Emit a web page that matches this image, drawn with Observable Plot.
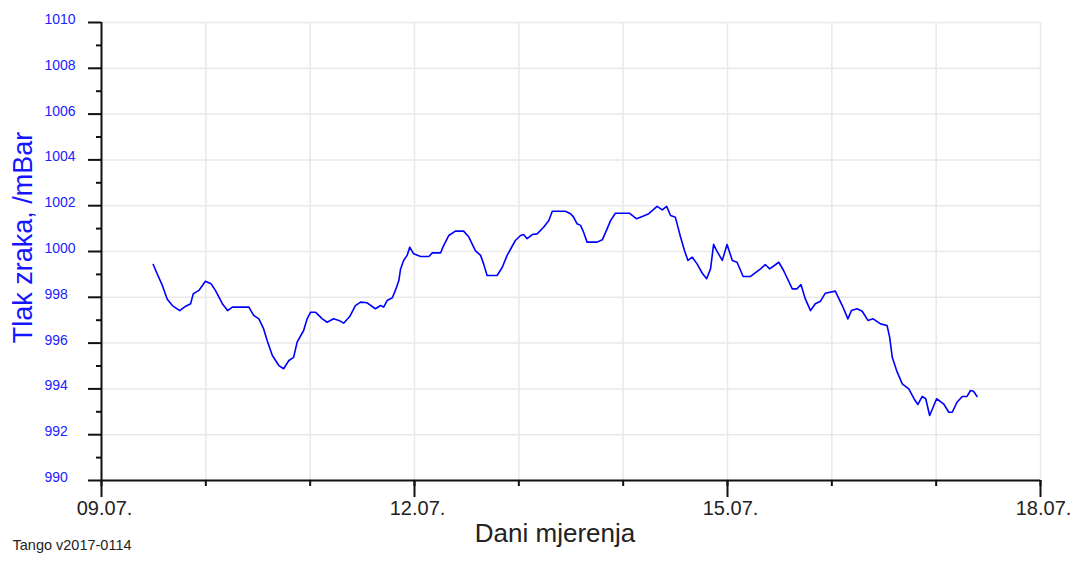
<!DOCTYPE html>
<html>
<head>
<meta charset="utf-8">
<script src="https://cdn.jsdelivr.net/npm/d3@7"></script>
<script src="https://cdn.jsdelivr.net/npm/@observablehq/plot@0.6"></script>
<style>
  html, body { margin: 0; padding: 0; background: #fff; }
  #chart svg { display: block; }
</style>
</head>
<body>
<div id="chart"></div>
<script>
// Hours since 09.07. 00:00 (UTC)
const hours = [
  11.9, 12.8, 14.0, 15.1, 16.3, 18.0, 19.3, 20.5, 21.1, 22.4, 23.9, 25.2, 26.2, 27.8, 29.0, 30.1,
  33.9, 35.0, 36.2, 37.3, 38.1, 39.3, 40.8, 41.9, 43.1, 44.2, 45.0, 46.5, 47.3, 48.1, 49.2, 50.8,
  51.9, 53.4, 54.6, 55.7, 57.1, 58.4, 59.6, 61.1, 63.0, 64.2, 64.9, 65.7, 66.9, 67.6, 68.4, 68.8,
  69.5, 70.3, 70.9, 71.8, 73.4, 75.3, 76.1, 78.0, 78.7, 79.9, 81.4, 83.3, 84.5, 86.0, 87.2, 87.9,
  88.7, 91.0, 92.2, 93.3, 95.2, 96.4, 97.1, 97.9, 99.1, 100.2, 101.7, 102.9, 103.7, 106.7, 107.9,
  108.6, 109.4, 110.2, 110.9, 111.7, 114.0, 115.2, 116.3, 117.1, 118.2, 121.5, 123.1, 124.4, 125.9,
  127.8, 129.0, 130.0, 130.9, 132.0, 133.2, 134.1, 134.9, 135.9, 137.0, 138.2, 139.2, 140.1, 140.8,
  141.5, 142.8, 143.9, 145.1, 146.2, 147.6, 149.3, 151.6, 152.7, 153.7, 155.8, 156.9, 158.9, 160.0,
  160.9, 161.9, 163.1, 164.2, 165.4, 166.5, 168.8, 170.4, 171.7, 172.5, 173.8, 175.0, 176.3, 177.5,
  179.2, 180.7, 181.3, 181.9, 182.9, 184.2, 185.7, 186.9, 187.8, 188.8, 189.6, 190.5, 191.3, 192.1,
  193.7, 194.9, 195.7, 196.8, 198.0, 199.1, 199.9, 200.6, 201.4
];
// Air pressure, mBar
const pressure = [
  999.43, 999.03, 998.52, 997.93, 997.64, 997.42, 997.60, 997.72, 998.15, 998.30, 998.70, 998.59, 998.30, 997.72, 997.42, 997.57,
  997.57, 997.21, 997.06, 996.62, 996.11, 995.46, 995.02, 994.88, 995.24, 995.38, 996.04, 996.55, 997.06, 997.35, 997.35, 997.06,
  996.91, 997.06, 996.99, 996.87, 997.16, 997.64, 997.79, 997.76, 997.50, 997.64, 997.57, 997.86, 997.98, 998.30, 998.73, 999.24,
  999.61, 999.83, 1000.19, 999.90, 999.78, 999.78, 999.94, 999.94, 1000.26, 1000.70, 1000.89, 1000.89, 1000.63, 1000.04, 999.83, 999.46,
  998.95, 998.95, 999.31, 999.83, 1000.48, 1000.70, 1000.74, 1000.56, 1000.74, 1000.77, 1001.06, 1001.35, 1001.76, 1001.76, 1001.65,
  1001.50, 1001.21, 1001.14, 1000.84, 1000.41, 1000.41, 1000.51, 1000.99, 1001.35, 1001.67, 1001.67, 1001.43, 1001.53, 1001.65,
  1001.97, 1001.82, 1001.97, 1001.57, 1001.50, 1000.63, 1000.04, 999.61, 999.75, 999.46, 999.05, 998.81, 999.24, 1000.31,
  1000.04, 999.61, 1000.31, 999.61, 999.53, 998.91, 998.91, 999.24, 999.43, 999.24, 999.53, 999.17, 998.37, 998.37,
  998.56, 997.93, 997.42, 997.72, 997.83, 998.18, 998.27, 997.64, 997.06, 997.42, 997.50, 997.39, 996.99, 997.06,
  996.84, 996.77, 996.26, 995.38, 994.80, 994.22, 994.00, 993.57, 993.32, 993.67, 993.57, 992.84, 993.20, 993.57,
  993.35, 992.98, 992.98, 993.42, 993.67, 993.67, 993.93, 993.90, 993.67
];

const majorDays = ["2017-07-09", "2017-07-12", "2017-07-15", "2017-07-18"];
const allDays = ["2017-07-09", "2017-07-10", "2017-07-11", "2017-07-12", "2017-07-13",
                 "2017-07-14", "2017-07-15", "2017-07-16", "2017-07-17", "2017-07-18"];
const majorY = [990, 992, 994, 996, 998, 1000, 1002, 1004, 1006, 1008, 1010];
const minorY = [991, 993, 995, 997, 999, 1001, 1003, 1005, 1007, 1009];

const yTitle = "Tlak zraka, /mBar";
const xTitle = "Dani mjerenja";
const caption = "Tango v2017-0114";

const start = Date.UTC(2017, 6, 9);
const data = hours.map((h, i) => ({ t: new Date(start + h * 3600e3), p: pressure[i] }));
const toDate = s => new Date(s + "T00:00:00Z");
const majorDates = majorDays.map(toDate);
const allDates = allDays.map(toDate);

const font = "'Liberation Sans', Arial, sans-serif";
const axisInk = "#111";

const chart = Plot.plot({
  width: 1076,
  height: 561,
  marginLeft: 101,
  marginRight: 36,
  marginTop: 22,
  marginBottom: 81,
  style: { fontFamily: font, background: "#fff", overflow: "visible" },
  x: { type: "utc", domain: [allDates[0], allDates[allDates.length - 1]], label: null },
  y: { domain: [990, 1010], label: null },
  marks: [
    Plot.gridX(allDates, { stroke: "#e9e9e9", strokeOpacity: 1, strokeWidth: 1.5 }),
    Plot.gridY(majorY, { stroke: "#e9e9e9", strokeOpacity: 1, strokeWidth: 1.5 }),
    Plot.line(data, { x: "t", y: "p", stroke: "#0000ff", strokeWidth: 1.6 }),
    Plot.ruleY([990], { stroke: axisInk, strokeWidth: 2 }),
    Plot.ruleX([allDates[0]], { stroke: axisInk, strokeWidth: 2 }),
    // y ticks
    Plot.axisY(minorY, { tickSize: 5, fill: "none", stroke: axisInk, strokeWidth: 2, label: null }),
    Plot.axisY(majorY, { tickSize: 13, fill: "none", stroke: axisInk, strokeWidth: 2, label: null }),
    // y tick labels
    Plot.axisY(majorY, {
      tickSize: 0, tickPadding: 0, stroke: "none",
      fill: "#2222ff", textAnchor: "start", dx: -57, dy: -3,
      fontSize: 14, fontFamily: "'Liberation Sans Narrow', 'Liberation Sans', sans-serif",
      tickFormat: d => String(d), label: null
    }),
    // x ticks
    Plot.axisX(allDates, { tickSize: 6, fill: "none", stroke: axisInk, strokeWidth: 2, label: null }),
    Plot.axisX(majorDates, { tickSize: 17, fill: "none", stroke: axisInk, strokeWidth: 2, label: null }),
    // x tick labels
    Plot.axisX(majorDates, {
      tickSize: 0, tickPadding: 20, stroke: "none",
      fill: "#222", fontSize: 20, dx: 3,
      tickFormat: d3.utcFormat("%d.%m."), label: null
    }),
    Plot.text([yTitle], {
      frameAnchor: "left", textAnchor: "middle", rotate: -90, dx: -78, dy: -14,
      fill: "#1515ff", fontSize: 27, text: d => d
    }),
    Plot.text([xTitle], {
      frameAnchor: "bottom", textAnchor: "middle", dx: -16, dy: 61,
      fill: "#222", fontSize: 26, text: d => d
    }),
    Plot.text([caption], {
      frameAnchor: "bottom-left", dx: -89, dy: 69, textAnchor: "start",
      fill: "#222", fontSize: 14.5, text: d => d
    })
  ]
});

document.getElementById("chart").appendChild(chart);
</script>
</body>
</html>
